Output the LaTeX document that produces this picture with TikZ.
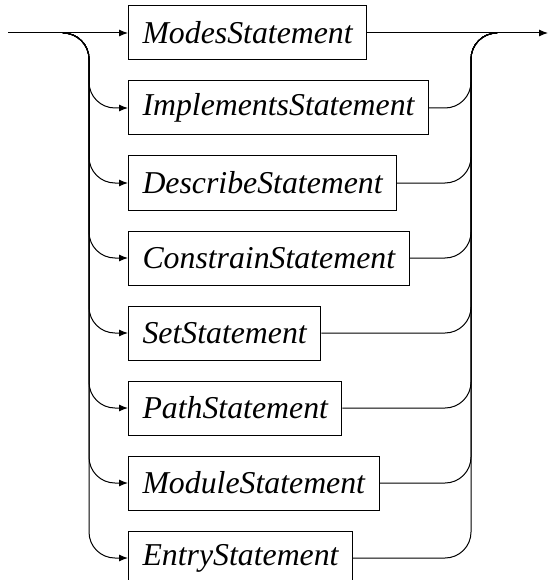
\documentclass[tikz,border=0pt]{standalone}
\usepackage{fontspec}
\setmainfont{Liberation Serif}
\usetikzlibrary{arrows.meta,positioning}
\tikzset{>={Latex[length=9pt,width=7pt]}}
\tikzset{
  stmt/.style={draw, line width=1pt, minimum height=54pt, inner xsep=14pt, inner ysep=0pt,
               font=\fontsize{31.8}{36}\selectfont\itshape, anchor=west},
  rail/.style={line width=1pt, rounded corners=26pt},
  arrow/.style={->, line width=1pt, rounded corners=26pt},
}
\begin{document}
\begin{tikzpicture}[x=1pt, y=-1pt]
\useasboundingbox (0,0) rectangle (548,580);

% statement boxes
\node[stmt] (m1) at (128,33) {ModesStatement};
\node[stmt, below=20pt of m1.south west, anchor=north west] (m2) {ImplementsStatement};
\node[stmt, below=20pt of m2.south west, anchor=north west] (m3) {DescribeStatement};
\node[stmt, below=20pt of m3.south west, anchor=north west] (m4) {ConstrainStatement};
\node[stmt, below=20pt of m4.south west, anchor=north west] (m5) {SetStatement};
\node[stmt, below=20pt of m5.south west, anchor=north west] (m6) {PathStatement};
\node[stmt, below=20pt of m6.south west, anchor=north west] (m7) {ModuleStatement};
\node[stmt, below=20pt of m7.south west, anchor=north west] (m8) {EntryStatement};

% entry / exit and the two rails
\coordinate (in) at (8,33);
\coordinate (out) at (548,33);
\coordinate (lsplit) at (63,33);
\coordinate (lrail) at (89,33);
\coordinate (rrail) at (471,33);
\coordinate (rjoin) at (497,33);

\draw[arrow] (in) -- (m1.west);
\draw[arrow] (m1.east) -- (out);

% left side: branch into each alternative
\draw[arrow] (lsplit) -- (lrail) |- (m2.west);
\draw[arrow] (lsplit) -- (lrail) |- (m3.west);
\draw[arrow] (lsplit) -- (lrail) |- (m4.west);
\draw[arrow] (lsplit) -- (lrail) |- (m5.west);
\draw[arrow] (lsplit) -- (lrail) |- (m6.west);
\draw[arrow] (lsplit) -- (lrail) |- (m7.west);
\draw[arrow] (lsplit) -- (lrail) |- (m8.west);

% right side: merge back
\draw[rail] (m2.east) -| (rrail) -- (rjoin);
\draw[rail] (m3.east) -| (rrail) -- (rjoin);
\draw[rail] (m4.east) -| (rrail) -- (rjoin);
\draw[rail] (m5.east) -| (rrail) -- (rjoin);
\draw[rail] (m6.east) -| (rrail) -- (rjoin);
\draw[rail] (m7.east) -| (rrail) -- (rjoin);
\draw[rail] (m8.east) -| (rrail) -- (rjoin);

\end{tikzpicture}
\end{document}
